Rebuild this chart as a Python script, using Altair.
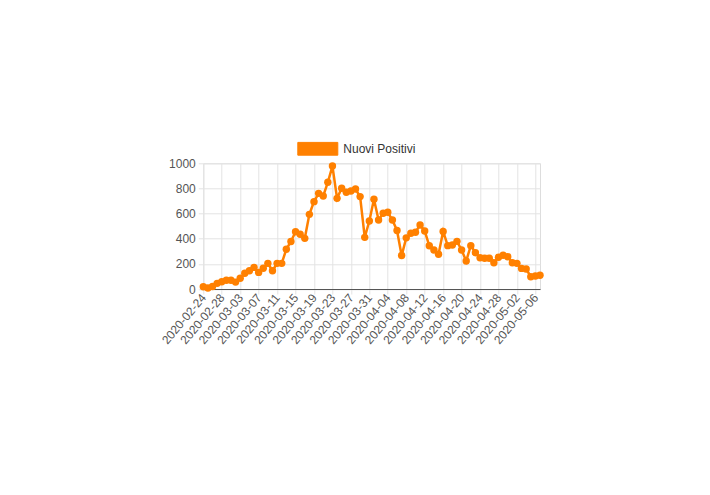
import altair as alt
import pandas as pd

dates = [
    "2020-02-24", "2020-02-25", "2020-02-26", "2020-02-27", "2020-02-28", "2020-02-29",
    "2020-03-01", "2020-03-02", "2020-03-03", "2020-03-04", "2020-03-05", "2020-03-06",
    "2020-03-07", "2020-03-08", "2020-03-09", "2020-03-10", "2020-03-11", "2020-03-12",
    "2020-03-13", "2020-03-14", "2020-03-15", "2020-03-16", "2020-03-17", "2020-03-18",
    "2020-03-19", "2020-03-20", "2020-03-21", "2020-03-22", "2020-03-23", "2020-03-24",
    "2020-03-25", "2020-03-26", "2020-03-27", "2020-03-28", "2020-03-29", "2020-03-30",
    "2020-03-31", "2020-04-01", "2020-04-02", "2020-04-03", "2020-04-04", "2020-04-05",
    "2020-04-06", "2020-04-07", "2020-04-08", "2020-04-09", "2020-04-10", "2020-04-11",
    "2020-04-12", "2020-04-13", "2020-04-14", "2020-04-15", "2020-04-16", "2020-04-17",
    "2020-04-18", "2020-04-19", "2020-04-20", "2020-04-21", "2020-04-22", "2020-04-23",
    "2020-04-24", "2020-04-25", "2020-04-26", "2020-04-27", "2020-04-28", "2020-04-29",
    "2020-04-30", "2020-05-01", "2020-05-02", "2020-05-03", "2020-05-04", "2020-05-05",
    "2020-05-06", "2020-05-07",
]

nuovi_positivi = [
    18, 8, 20, 45, 58, 70,
    70, 55, 85, 125, 145, 172,
    132, 165, 204, 145, 204, 204,
    316, 378, 456, 435, 403, 594,
    695, 761, 740, 849, 978, 721,
    801, 770, 780, 795, 735, 411,
    541, 714, 549, 602, 610, 549,
    466, 266, 407, 443, 452, 509,
    462, 344, 310, 277, 458, 345,
    350, 379, 310, 223, 345, 289,
    249, 244, 244, 209, 252, 268,
    257, 209, 204, 164, 159, 98,
    103, 109,
]

tick_labels = [
    "2020-02-24", "2020-02-28", "2020-03-03", "2020-03-07", "2020-03-11", "2020-03-15",
    "2020-03-19", "2020-03-23", "2020-03-27", "2020-03-31", "2020-04-04", "2020-04-08",
    "2020-04-12", "2020-04-16", "2020-04-20", "2020-04-24", "2020-04-28", "2020-05-02",
    "2020-05-06",
]
y_ticks = [0, 200, 400, 600, 800, 1000]
series_name = "Nuovi Positivi"
orange = "#FF8000"

df = pd.DataFrame({"data": dates, "valore": nuovi_positivi, "serie": series_name})

FONT = "Liberation Sans"
GRID = "#e3e3e3"

x_enc = alt.X(
    "data:O",
    sort=None,
    scale=alt.Scale(type="point", padding=0),
    axis=alt.Axis(
        values=tick_labels,
        title=None,
        labelAngle=-50,
        labelAlign="right",
        labelBaseline="middle",
        labelPadding=1,
        labelFont=FONT,
        labelFontSize=12,
        labelColor="#555555",
        grid=True,
        gridColor=GRID,
        tickColor=GRID,
        tickSize=5,
        domainColor="#555555",
        domainWidth=1,
    ),
)
y_enc = alt.Y(
    "valore:Q",
    scale=alt.Scale(domain=[0, 1000], nice=False),
    axis=alt.Axis(
        values=y_ticks,
        format="d",
        title=None,
        labelFont=FONT,
        labelFontSize=12,
        labelColor="#555555",
        labelPadding=3,
        grid=True,
        gridColor=GRID,
        tickColor=GRID,
        tickSize=5,
        domain=False,
    ),
)
color_enc = alt.Color(
    "serie:N",
    scale=alt.Scale(range=[orange]),
    legend=alt.Legend(
        title=None,
        orient="none",
        legendX=94,
        legendY=-35,
        padding=0,
        symbolType="M-1,-0.32L1,-0.32L1,0.32L-1,0.32Z",
        symbolSize=1600,
        symbolFillColor=orange,
        symbolStrokeColor=orange,
        symbolStrokeWidth=1,
        symbolOpacity=1,
        labelFont=FONT,
        labelFontSize=12,
        labelColor="#333333",
        labelOffset=5,
    ),
)

base = alt.Chart(df).encode(x=x_enc, y=y_enc, color=color_enc)
line = base.mark_line(strokeWidth=2.5)
points = base.mark_point(filled=True, size=55, opacity=1)

chart = (
    alt.layer(line, points)
    .properties(
        width=336.7,
        height=125.7,
        autosize=alt.AutoSizeParams(type="none"),
        padding={"left": 195.3, "top": 155.3, "right": 10, "bottom": 80},
    )
    .configure_view(stroke=GRID)
    .configure(background="white")
)

chart.save("out.html", embed_options={"renderer": "svg", "actions": False})
